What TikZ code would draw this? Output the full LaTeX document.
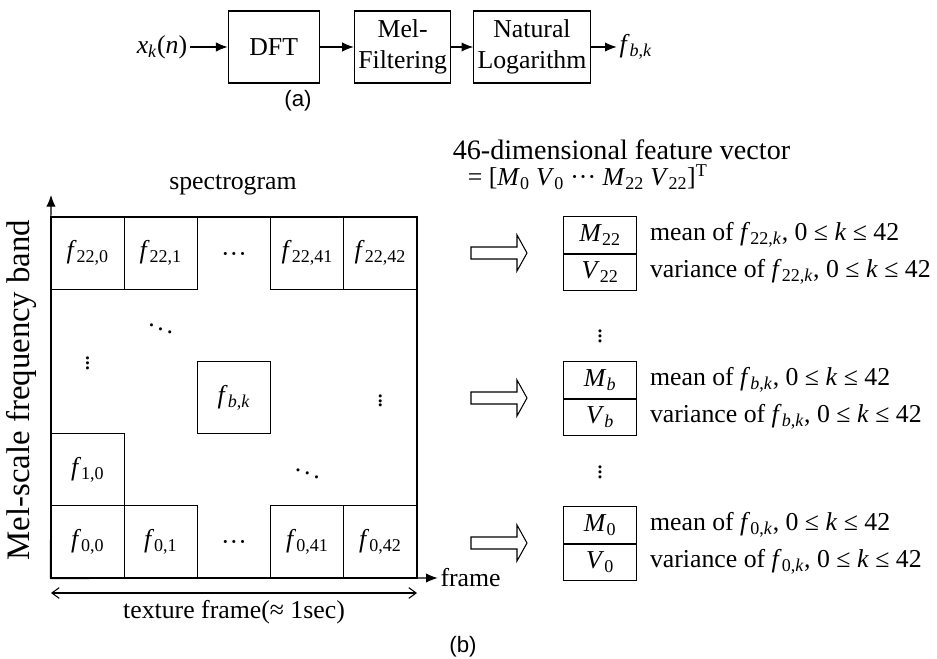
\documentclass[tikz,border=0pt]{standalone}
\usepackage{fontspec}
\setmainfont{Liberation Serif}
\newfontfamily\capfont{Liberation Sans}
\usepackage{tikz}
\usetikzlibrary{arrows.meta, positioning}

\newcommand{\fv}[1]{\textit{f}\textsubscript{#1}}
\newcommand{\mv}[1]{\textit{M}\textsubscript{#1}}
\newcommand{\vv}[1]{\textit{V}\textsubscript{#1}}

\begin{document}
\begin{tikzpicture}[font=\fontsize{22}{26}\selectfont, line width=0.9pt,
		blk/.style={shape=rectangle, draw, minimum width=2.73cm, minimum height=2.16cm, align=center},
		cell/.style={shape=rectangle, draw, minimum width=2.196cm, minimum height=2.166cm, inner sep=0pt},
		vec/.style={shape=rectangle, draw, minimum width=2.2cm, minimum height=1.083cm, inner sep=0pt},
		lbl/.style={inner sep=2pt},
		flow/.style={-{Latex[length=0.35cm, width=0.28cm]}},
		span/.style={{Straight Barb[length=0.22cm, width=0.32cm]}-{Straight Barb[length=0.22cm, width=0.32cm]}},
		capt/.style={font=\fontsize{19}{22}\capfont},
		fatarrow/.pic={\draw (0,0.18) -- (1.38,0.18) -- (1.38,0.54) -- (1.68,0) -- (1.38,-0.54) -- (1.38,-0.18) -- (0,-0.18) -- cycle;}]
		\useasboundingbox (0,0) rectangle (28.11,19.74);
		% (a) processing chain:
		\node[blk](N1) at (8.21, 18.33){DFT};
		\node[blk](N2) at (12.08, 18.33){Mel-\\Filtering};
		\node[blk](N3) at (15.96, 18.33){Natural\\Logarithm};
		\node[lbl, anchor=east](N0) at (5.7, 18.33){\textit{x}\textsubscript{\textit{k}}(\textit{n})};
		\node[lbl, anchor=west](N4) at (18.5, 18.33){\fv{\textit{b},\textit{k}}};
		\draw[flow] (N0) -- (N1);
		\draw[flow] (N1) -- (N2);
		\draw[flow] (N2) -- (N3);
		\draw[flow] (N3) -- (N4);
		\node[capt](C1) at (8.94, 16.71){(a)};
		% (b) spectrogram:
		\node[shape=rectangle, draw, minimum width=10.98cm, minimum height=10.83cm](S0) at (7.02, 7.815){};
		\node[cell](A1) at (2.63, 12.15){\fv{22,0}};
		\node[cell](A2) at (4.82, 12.15){\fv{22,1}};
		\node[cell](A3) at (9.22, 12.15){\fv{22,41}};
		\node[cell](A4) at (11.41, 12.15){\fv{22,42}};
		\node[cell](B1) at (7.02, 7.815){\fv{\textit{b},\textit{k}}};
		\node[cell](B2) at (2.63, 5.65){\fv{1,0}};
		\node[cell](Z1) at (2.63, 3.48){\fv{0,0}};
		\node[cell](Z2) at (4.82, 3.48){\fv{0,1}};
		\node[cell](Z3) at (9.22, 3.48){\fv{0,41}};
		\node[cell](Z4) at (11.41, 3.48){\fv{0,42}};
		\node(D1) at (7.02, 12.02){···};
		\node(D2) at (7.02, 3.38){···};
		\node(D3) at (4.82, 9.98){$\ddots$};
		\node(D4) at (2.63, 8.94){$\vdots$};
		\node(D5) at (11.41, 7.815){$\vdots$};
		\node(D6) at (9.22, 5.65){$\ddots$};
		\node(L1) at (6.99, 14.19){spectrogram};
		\node[rotate=90, font=\fontsize{28}{32}\selectfont](L2) at (0.64, 8.04){Mel-scale frequency band};
		\coordinate (Y1) at (1.53, 13.89);
		\node[lbl, anchor=west](X1) at (13.13, 2.4){frame};
		\draw[flow] (S0.south west) -- (Y1);
		\draw[flow] (S0.south west) -- (X1.west);
		\coordinate (T1) at (1.53, 1.95);
		\coordinate (T2) at (12.51, 1.95);
		\draw[span] (T1) -- (T2);
		\node(T3) at (7.02, 1.38){texture frame(≈ 1sec)};
		\node[capt](C2) at (13.89, 0.33){(b)};
		% feature vector:
		\node[lbl, anchor=west, font=\fontsize{24}{28}\selectfont](H1) at (13.5, 15.24){46-dimensional feature vector};
		\node[lbl, anchor=west](H2) at (13.95, 14.43){= [\mv{0} \vv{0} ··· \mv{22} \vv{22}]\textsuperscript{T}};
		\pic at (14.13, 12.15){fatarrow};
		\pic at (14.13, 7.8){fatarrow};
		\pic at (14.13, 3.45){fatarrow};
		\node[vec](M1) at (18.0, 12.69){\mv{22}};
		\node[vec, below=0pt of M1](V1){\vv{22}};
		\node[vec](M2) at (18.0, 8.34){\mv{\textit{b}}};
		\node[vec, below=0pt of M2](V2){\vv{\textit{b}}};
		\node[vec](M3) at (18.0, 3.99){\mv{0}};
		\node[vec, below=0pt of M3](V3){\vv{0}};
		\node(D7) at (18.0, 9.75){$\vdots$};
		\node(D8) at (18.0, 5.67){$\vdots$};
		\node[lbl, right=0.3cm of M1](E1){mean of \fv{22,\textit{k}}, 0 ≤ \textit{k} ≤ 42};
		\node[lbl, right=0.3cm of V1](F1){variance of \fv{22,\textit{k}}, 0 ≤ \textit{k} ≤ 42};
		\node[lbl, right=0.3cm of M2](E2){mean of \fv{\textit{b},\textit{k}}, 0 ≤ \textit{k} ≤ 42};
		\node[lbl, right=0.3cm of V2](F2){variance of \fv{\textit{b},\textit{k}}, 0 ≤ \textit{k} ≤ 42};
		\node[lbl, right=0.3cm of M3](E3){mean of \fv{0,\textit{k}}, 0 ≤ \textit{k} ≤ 42};
		\node[lbl, right=0.3cm of V3](F3){variance of \fv{0,\textit{k}}, 0 ≤ \textit{k} ≤ 42};
	\end{tikzpicture}
\end{document}
